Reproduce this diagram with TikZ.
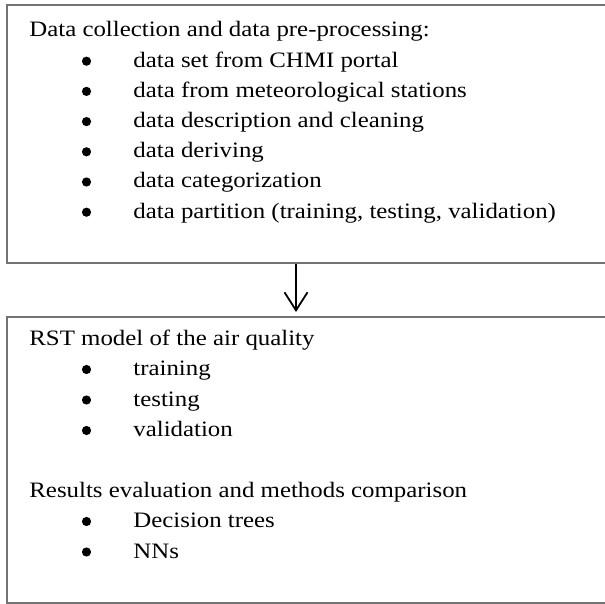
\documentclass[tikz,border=0pt]{standalone}
\usepackage{fontspec}
\setmainfont{Liberation Serif}[FakeStretch=1.13]
\usetikzlibrary{arrows.meta,fit,positioning}

\tikzset{
  stagebox/.style={draw=black!55, line width=1pt, inner sep=0pt},
  txt/.style={anchor=base west, inner sep=0pt, font=\fontsize{11}{13}\selectfont},
  dot/.style={circle, fill=black, inner sep=0pt, minimum size=4.6pt},
  flow/.style={-{Straight Barb[length=9pt,width=11.5pt]}, line width=0.9pt}
}

\begin{document}
\begin{tikzpicture}[x=0.5pt,y=-0.5pt]
\useasboundingbox (0,0) rectangle (605,604);
% the two stage boxes (right sides run off the page)
\node[stagebox, fit={(7,5) (650,263)}] (collect) {};
\node[stagebox, fit={(7,317) (650,603)}] (model) {};

% first stage
\node[txt] (collecthead) at (29,37) {Data collection and data pre-processing:};
\foreach \entry [count=\i] in {data set from CHMI portal, data from meteorological stations,
    data description and cleaning, data deriving, data categorization,
    {data partition (training, testing, validation)}} {
  \node[dot] (cdot\i) at (86.5,{37+30.2*\i-6}) {};
  \node[txt] (citem\i) at (133,{37+30.2*\i}) {\entry};
}

% second stage
\node[txt] (modelhead) at (29,345) {RST model of the air quality};
\foreach \entry [count=\i] in {training, testing, validation} {
  \node[dot] (mdot\i) at (86.5,{345+30.5*\i-6}) {};
  \node[txt] (mitem\i) at (133,{345+30.5*\i}) {\entry};
}
\node[txt] (evalhead) at (29,497) {Results evaluation and methods comparison};
\foreach \entry [count=\i] in {Decision trees, NNs} {
  \node[dot] (edot\i) at (86.5,{497+30.5*\i-6}) {};
  \node[txt] (eitem\i) at (133,{497+30.5*\i}) {\entry};
}

% arrow between the stages
\coordinate (axis) at (296,0);
\draw[flow] (collect.south -| axis) -- ([yshift=2pt]model.north -| axis);

\end{tikzpicture}
\end{document}
